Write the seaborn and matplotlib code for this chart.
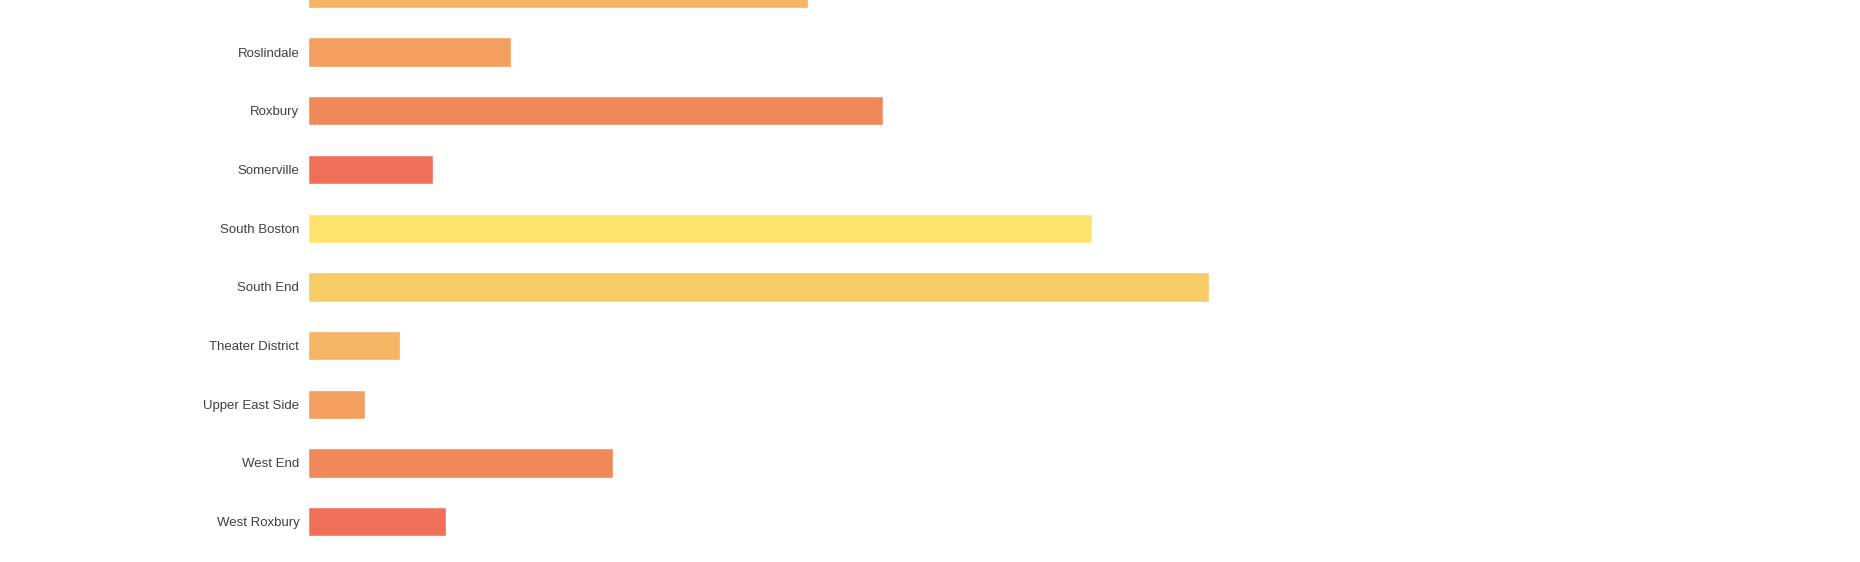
import matplotlib
matplotlib.use("Agg")
import matplotlib.pyplot as plt
import seaborn as sns
import pandas as pd

# Neighbourhoods (the first one is cut off at the top of the picture)
neighbourhoods = [
    "Mission Hill", "Roslindale", "Roxbury", "Somerville", "South Boston",
    "South End", "Theater District", "Upper East Side", "West End",
    "West Roxbury",
]
counts = [333, 135, 383, 83, 522, 600, 61, 38, 203, 92]

# 6-colour warm cycle repeated over the categories
warm_cycle = ["#f5b664", "#f29f5f", "#f0895a", "#ef6f58", "#fce46c", "#f7cb68"]

df = pd.DataFrame({"neighbourhood": neighbourhoods, "count": counts})
palette = {n: warm_cycle[i % len(warm_cycle)] for i, n in enumerate(neighbourhoods)}

sns.set_style("white")
plt.rcParams["font.family"] = ["Liberation Sans", "DejaVu Sans"]

fig = plt.figure(figsize=(18.6, 5.62), dpi=100)
ax = fig.add_axes([308.4 / 1860, 0.0, 1 - 308.4 / 1860, 1.0])

sns.barplot(data=df, x="count", y="neighbourhood", hue="neighbourhood",
            palette=palette, orient="h", width=0.5, saturation=1,
            legend=False, ax=ax)

ax.set_xlim(0, 1034)
ax.set_ylim(9.687, 0.112)
ax.set_xlabel("")
ax.set_ylabel("")
ax.set_xticks([])
ax.tick_params(axis="y", length=0, pad=6.5, labelsize=9.5, labelcolor="#404040")
sns.despine(ax=ax, left=True, bottom=True)

fig.savefig("out.png", dpi=100)
